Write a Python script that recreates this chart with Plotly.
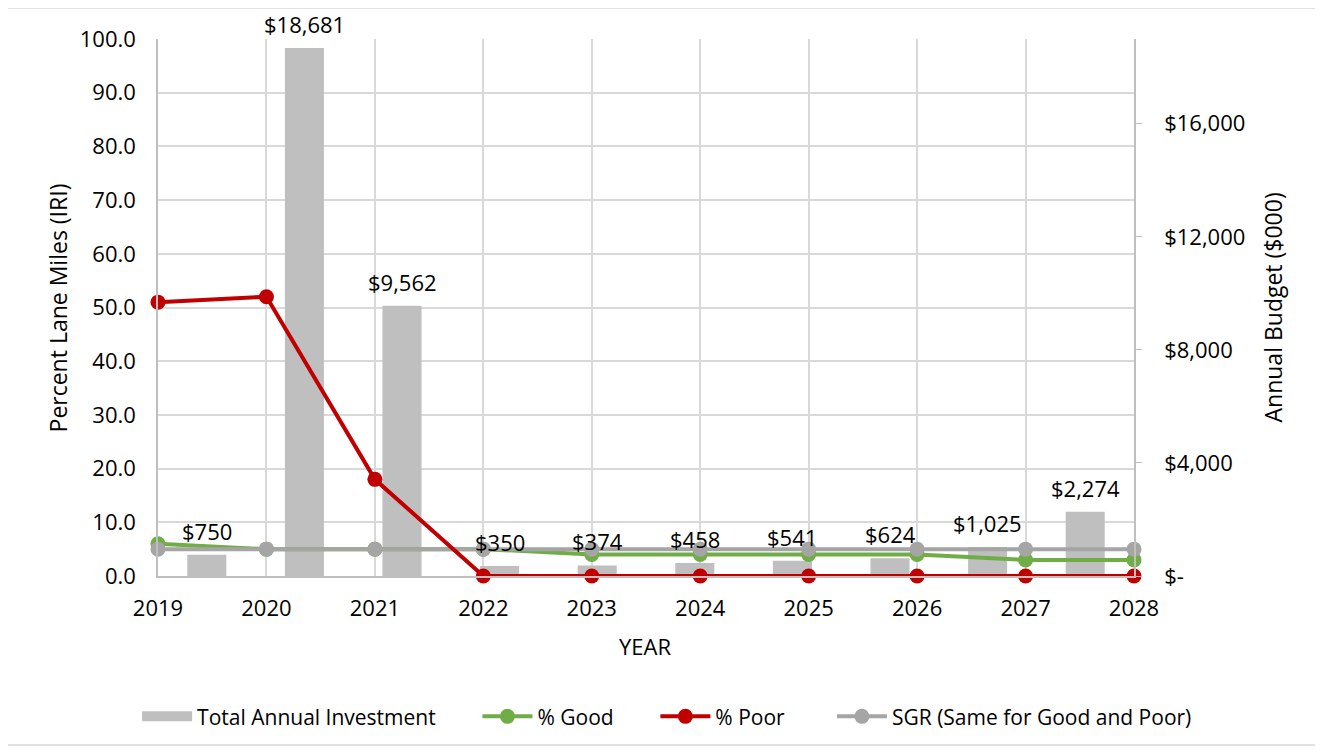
import plotly.graph_objects as go

years = [2019, 2020, 2021, 2022, 2023, 2024, 2025, 2026, 2027, 2028]
year_labels = [str(y) for y in years]
investment = [750, 18681, 9562, 350, 374, 458, 541, 624, 1025, 2274]
pct_good = [6.0, 5.0, 5.0, 5.0, 4.0, 4.0, 4.0, 4.0, 3.0, 3.0]
pct_poor = [51.0, 52.0, 18.0, 0.0, 0.0, 0.0, 0.0, 0.0, 0.0, 0.0]
sgr = [5.0, 5.0, 5.0, 5.0, 5.0, 5.0, 5.0, 5.0, 5.0, 5.0]
right_ticks = [0, 4000, 8000, 12000, 16000]
right_ticktext = ["$-", "$4,000", "$8,000", "$12,000", "$16,000"]

FONT = "Open Sans"
FS = 22
TXT = "#000000"
GRID = "#D9D9D9"
AXL = "#BFBFBF"
BAR = "#BFBFBF"
GREEN = "#70AD47"
RED = "#C00000"
GREY = "#A5A5A5"

fig = go.Figure()

fig.add_trace(go.Bar(
    x=list(range(len(years))), y=investment, name="Total Annual Investment",
    marker=dict(color=BAR, line=dict(width=0)), width=0.4,
    xaxis="x", yaxis="y", showlegend=False,
))
# legend entry for the bars (wide swatch like the original)
fig.add_trace(go.Scatter(
    x=[None], y=[None], name="Total Annual Investment", mode="lines",
    line=dict(color=BAR, width=14), xaxis="x", yaxis="y", legend="legend",
))

fig.add_trace(go.Scatter(
    x=years, y=pct_good, name="% Good", mode="lines+markers",
    line=dict(color=GREEN, width=4), marker=dict(color=GREEN, size=15),
    xaxis="x2", yaxis="y2", cliponaxis=False, legend="legend2",
))
fig.add_trace(go.Scatter(
    x=years, y=sgr, name="SGR (Same for Good and Poor)", mode="lines+markers",
    line=dict(color=GREY, width=4), marker=dict(color=GREY, size=15),
    xaxis="x2", yaxis="y2", cliponaxis=False, legend="legend4",
))
fig.add_trace(go.Scatter(
    x=years, y=pct_poor, name="% Poor", mode="lines+markers",
    line=dict(color=RED, width=4), marker=dict(color=RED, size=15),
    xaxis="x2", yaxis="y2", cliponaxis=False, legend="legend3",
))

annotations = []
for i, v in enumerate(investment):
    annotations.append(dict(
        x=i, y=v, xref="x", yref="y", text="${:,}".format(v),
        showarrow=False, yanchor="bottom", yshift=7,
        font=dict(family=FONT, size=FS, color=TXT),
    ))

annotations += [
    dict(text="YEAR", x=0.499, y=-0.130, xref="paper", yref="paper", showarrow=False,
         xanchor="center", yanchor="middle", font=dict(family=FONT, size=FS, color=TXT)),
    dict(text="Percent Lane Miles (IRI)", x=-0.1025, y=0.5, xref="paper", yref="paper",
         showarrow=False, textangle=-90, xanchor="center", yanchor="middle",
         font=dict(family=FONT, size=23, color=TXT)),
    dict(text="Annual Budget ($000)", x=1.1414, y=0.5, xref="paper", yref="paper",
         showarrow=False, textangle=-90, xanchor="center", yanchor="middle",
         font=dict(family=FONT, size=23, color=TXT)),
]

LEG_Y = -0.262
def leg(x):
    return dict(orientation="h", x=x, xanchor="left", y=LEG_Y, yanchor="middle",
                font=dict(family=FONT, size=21, color=TXT), itemwidth=50,
                bgcolor="rgba(0,0,0,0)", borderwidth=0)

fig.update_layout(
    width=1315, height=742,
    margin=dict(l=150, r=189, t=31, b=174),
    paper_bgcolor="white", plot_bgcolor="white",
    font=dict(family=FONT, size=FS, color=TXT),
    showlegend=True,
    barmode="overlay",
    legend=leg(-0.0214),
    legend2=leg(0.3273),
    legend3=leg(0.5096),
    legend4=leg(0.6905),
    xaxis=dict(range=[-0.5, len(years) - 0.5], visible=False, showgrid=False),
    yaxis=dict(range=[0, 19000], side="right", showgrid=False, zeroline=False,
               tickvals=right_ticks, ticktext=right_ticktext, ticks="outside",
               ticklen=6, tickcolor=AXL, showline=True, linecolor=AXL, linewidth=1.5,
               ticklabelstandoff=18, tickfont=dict(family=FONT, size=FS, color=TXT)),
    xaxis2=dict(overlaying="x", anchor="y2", side="bottom", range=[2019, 2028],
                tickvals=years, ticktext=year_labels, showgrid=True, gridcolor=GRID,
                gridwidth=1.5, showline=True, linecolor=AXL, linewidth=1.5, ticks="",
                zeroline=False, ticklabelstandoff=12,
                tickfont=dict(family=FONT, size=FS, color=TXT)),
    yaxis2=dict(overlaying="y", anchor="x2", side="left", range=[0, 100], dtick=10,
                tickformat=".1f", showgrid=True, gridcolor=GRID, gridwidth=1.5,
                zeroline=False, showline=True, linecolor=AXL, linewidth=1.5, ticks="",
                ticklabelstandoff=16, tickfont=dict(family=FONT, size=FS, color=TXT)),
    annotations=annotations,
    shapes=[dict(type="rect", xref="paper", yref="paper",
                 x0=-0.1547, x1=1.1885, y0=-0.3147, y1=1.0577,
                 line=dict(color=GRID, width=1.5), fillcolor="rgba(0,0,0,0)", layer="below")],
)

fig.write_html("out.html")
